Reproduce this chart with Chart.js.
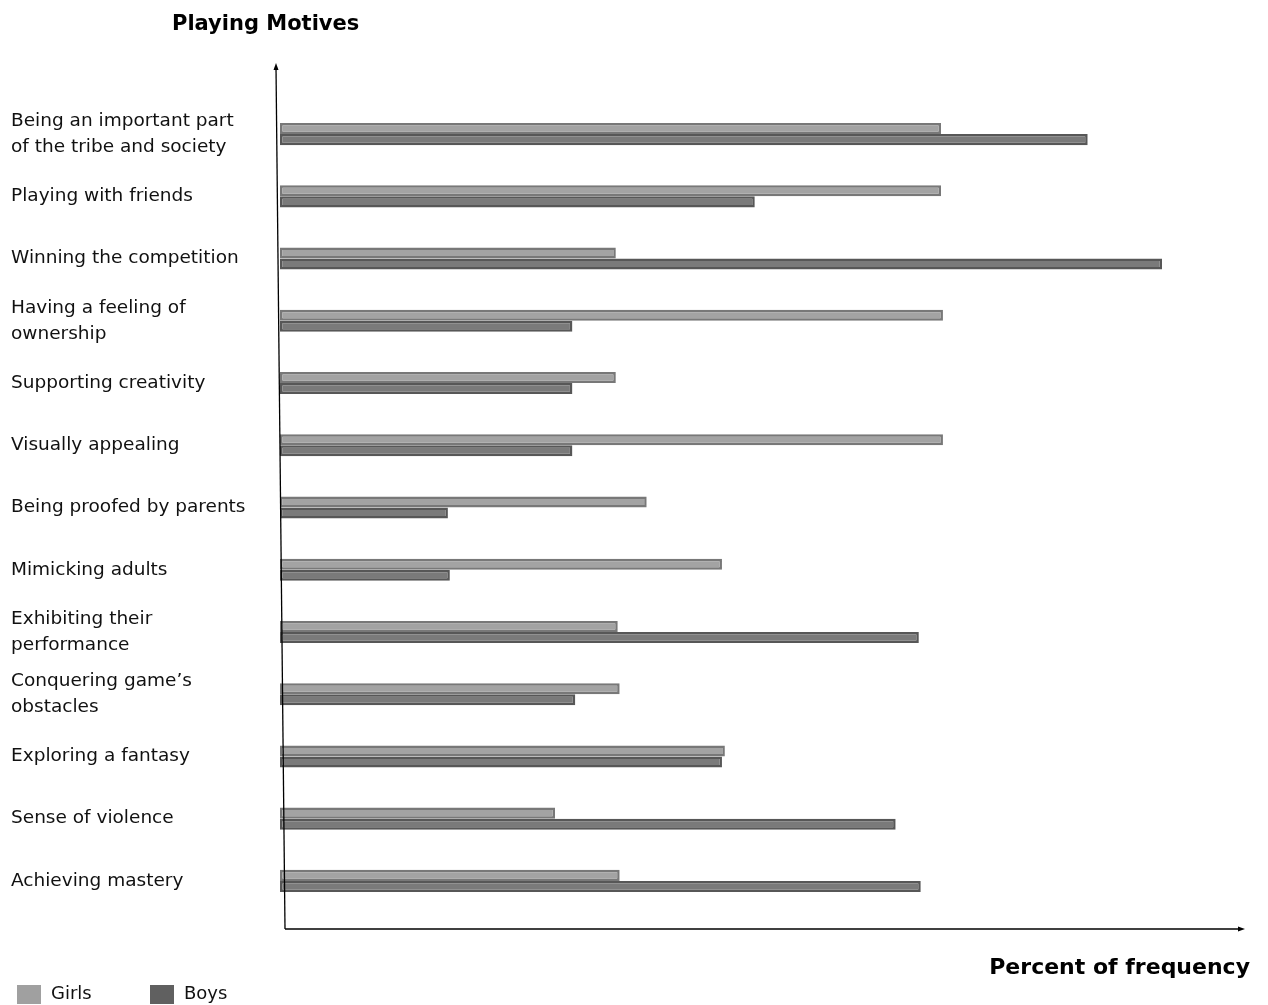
<!DOCTYPE html>
<html>
<head>
<meta charset="utf-8">
<script src="https://cdn.jsdelivr.net/npm/chart.js@4"></script>
<style>
  html, body { margin: 0; padding: 0; background: #fff; }
  #wrap { width: 1268px; height: 1005px; position: relative; }
</style>
</head>
<body>
<div id="wrap"><canvas id="chart"></canvas></div>
<script>
// Motives (top to bottom)
const motives = [
    ['Being an important part', 'of the tribe and society'],
    'Playing with friends',
    'Winning the competition',
    ['Having a feeling of', 'ownership'],
    'Supporting creativity',
    'Visually appealing',
    'Being proofed by parents',
    'Mimicking adults',
    ['Exhibiting their', 'performance'],
    ['Conquering game\u2019s', 'obstacles'],
    'Exploring a fantasy',
    'Sense of violence',
    'Achieving mastery'
];

// Percent of frequency (no scale printed, read relative to axis length)
const girls = [68.5, 68.5, 34.8, 68.7, 34.8, 68.7, 38.0, 45.8, 35.0, 35.2, 46.1, 28.5, 35.2];
const boys  = [83.7, 49.2, 91.4, 30.3, 30.3, 30.3, 17.4, 17.6, 66.2, 30.6, 45.8, 63.8, 66.4];

const FONT = "'DejaVu Sans', Verdana, sans-serif";

// Draws hand-style axes with arrows, the titles and the legend
const decorPlugin = {
    id: 'decor',
    afterDraw(chart) {
        const ctx = chart.ctx;
        const area = chart.chartArea;
        ctx.save();
        ctx.strokeStyle = '#000';
        ctx.fillStyle = '#000';
        ctx.lineWidth = 1.3;

        // y axis (slightly leaning, like the original)
        const topX = area.left - 4, topY = 63;
        const botX = area.left + 5, botY = 929;
        ctx.beginPath();
        ctx.moveTo(botX, botY);
        ctx.lineTo(topX, topY + 4);
        ctx.stroke();
        ctx.beginPath();
        ctx.moveTo(topX, topY);
        ctx.lineTo(topX - 2.5, topY + 7);
        ctx.lineTo(topX + 2.5, topY + 7);
        ctx.closePath();
        ctx.fill();

        // x axis
        const endX = area.right;
        ctx.beginPath();
        ctx.moveTo(botX, botY);
        ctx.lineTo(endX - 4, botY);
        ctx.stroke();
        ctx.beginPath();
        ctx.moveTo(endX, botY);
        ctx.lineTo(endX - 7, botY - 2.5);
        ctx.lineTo(endX - 7, botY + 2.5);
        ctx.closePath();
        ctx.fill();

        // titles
        ctx.font = 'bold 21px ' + FONT;
        ctx.textBaseline = 'middle';
        ctx.textAlign = 'left';
        ctx.fillText('Playing Motives', 172, 25);
        ctx.font = 'bold 22px ' + FONT;
        ctx.textAlign = 'right';
        ctx.fillText('Percent of frequency', 1250, 968);

        // legend
        ctx.font = '18px ' + FONT;
        ctx.textAlign = 'left';
        const legendX = [17, 150];
        chart.data.datasets.forEach((ds, i) => {
            ctx.fillStyle = ds.legendColor;
            ctx.fillRect(legendX[i], 985, 24, 19);
            ctx.fillStyle = '#111';
            ctx.fillText(ds.label, legendX[i] + 34, 994);
        });
        ctx.restore();
    }
};

new Chart(document.getElementById('chart'), {
    type: 'bar',
    data: {
        labels: motives,
        datasets: [{
            label: 'Girls',
            data: girls,
            backgroundColor: '#a3a3a3',
            borderColor: '#787878',
            borderWidth: 2.5,
            borderSkipped: false,
            legendColor: '#a0a0a0'
        }, {
            label: 'Boys',
            data: boys,
            backgroundColor: '#7a7a7a',
            borderColor: '#575757',
            borderWidth: 2.5,
            borderSkipped: false,
            legendColor: '#606060'
        }]
    },
    options: {
        indexAxis: 'y',
        responsive: true,
        maintainAspectRatio: false,
        animation: false,
        categoryPercentage: 0.355,
        barPercentage: 1,
        layout: {
            padding: { left: 11, right: 23, top: 103, bottom: 93 }
        },
        plugins: {
            legend: { display: false },
            title: { display: false },
            tooltip: { enabled: false }
        },
        scales: {
            x: {
                display: false,
                min: 0,
                max: 100
            },
            y: {
                grid: { display: false },
                border: { display: false },
                ticks: {
                    crossAlign: 'far',
                    color: '#111',
                    padding: 0,
                    font: { family: FONT, size: 18.5, lineHeight: 1.4 }
                },
                afterFit(scale) {
                    scale.width = 269;
                }
            }
        }
    },
    plugins: [decorPlugin]
});
</script>
</body>
</html>
